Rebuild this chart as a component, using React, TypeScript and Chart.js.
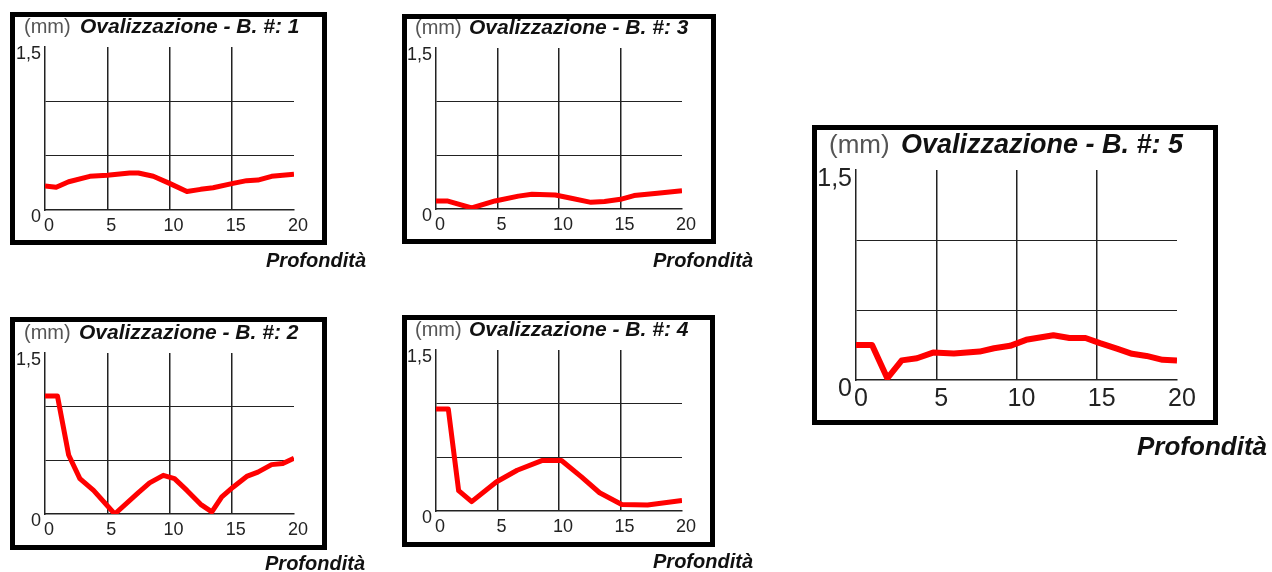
import React, { useEffect, useRef } from "react";
import { Chart, registerables } from "chart.js";

Chart.register(...registerables);

// ---------- data ----------
const xTickValues = [0, 5, 10, 15, 20];
const yTickLabelZero = "0";
const yTickLabelTop = "1,5";
const unitLabel = "(mm)";
const xAxisLabel = "Profondità";
const titles = [
  "Ovalizzazione - B. #: 1",
  "Ovalizzazione - B. #: 2",
  "Ovalizzazione - B. #: 3",
  "Ovalizzazione - B. #: 4",
  "Ovalizzazione - B. #: 5",
];

const depth1 = [0, 0.9, 1.9, 3.6, 5, 6.8, 7.5, 8.7, 10, 11.4, 12.5, 13.5, 15.1, 16.2, 17.1, 18.2, 20];
const oval1 = [0.22, 0.21, 0.26, 0.31, 0.32, 0.34, 0.34, 0.31, 0.245, 0.17, 0.19, 0.205, 0.245, 0.27, 0.275, 0.31, 0.33];

const depth2 = [0, 1.0, 1.9, 2.8, 3.9, 5.6, 7.5, 8.4, 9.5, 10.4, 11.4, 12.5, 13.4, 14.2, 15.1, 16.2, 17.1, 18.2, 19.1, 20];
const oval2 = [1.1, 1.1, 0.55, 0.33, 0.22, 0.0, 0.2, 0.29, 0.36, 0.33, 0.22, 0.09, 0.02, 0.16, 0.25, 0.35, 0.39, 0.46, 0.47, 0.52];

const depth3 = [0, 0.9, 2.9, 4.8, 6.7, 7.8, 9.7, 11, 12.6, 13.7, 15, 16.1, 18, 20];
const oval3 = [0.075, 0.075, 0.01, 0.075, 0.12, 0.137, 0.13, 0.1, 0.062, 0.07, 0.09, 0.125, 0.146, 0.17];

const depth4 = [0, 1.0, 1.84, 2.9, 4.9, 6.6, 8.6, 10.2, 11.8, 13.3, 15.1, 17.2, 20];
const oval4 = [0.95, 0.95, 0.19, 0.087, 0.27, 0.38, 0.47, 0.47, 0.32, 0.17, 0.06, 0.056, 0.097];

const depth5 = [0, 1.0, 1.95, 2.85, 3.8, 4.8, 6.1, 7.7, 8.6, 9.6, 10.6, 12.3, 13.3, 14.3, 15.2, 16.3, 17.2, 18.1, 19.1, 20];
const oval5 = [0.25, 0.25, 0.012, 0.14, 0.155, 0.196, 0.19, 0.203, 0.227, 0.244, 0.287, 0.32, 0.3, 0.3, 0.263, 0.222, 0.187, 0.172, 0.144, 0.139];

// ---------- layout ----------
type Panel = {
  title: string;
  depth: number[];
  values: number[];
  box: number[];
  area: number[];
  mmX: number;
  boldX: number;
  titleBase: number;
  profRight: number;
  profBase: number;
  titleSize: number;
  tickSize: number;
  profSize: number;
  lineW: number;
  labelDY: number;
  labelDX: number;
  xPad: number;
};

const small = { titleSize: 21, tickSize: 18, profSize: 20, lineW: 5, labelDY: 7, labelDX: 4, xPad: 5 };

const panels: Panel[] = [
  { title: titles[0], depth: depth1, values: oval1, box: [10, 12, 327, 245], area: [45, 47, 294, 210], mmX: 24, boldX: 80, titleBase: 33, profRight: 366, profBase: 267, ...small },
  { title: titles[1], depth: depth2, values: oval2, box: [10, 317, 327, 550], area: [45, 353, 294, 514], mmX: 24, boldX: 79, titleBase: 339, profRight: 365, profBase: 570, ...small },
  { title: titles[2], depth: depth3, values: oval3, box: [402, 14, 716, 244], area: [436, 48, 682, 209], mmX: 415, boldX: 469, titleBase: 34, profRight: 753, profBase: 267, ...small },
  { title: titles[3], depth: depth4, values: oval4, box: [402, 315, 715, 547], area: [436, 350, 682, 511], mmX: 415, boldX: 469, titleBase: 336, profRight: 753, profBase: 568, ...small },
  { title: titles[4], depth: depth5, values: oval5, box: [812, 125, 1218, 425], area: [856, 170, 1177, 380], mmX: 829, boldX: 901, titleBase: 153, profRight: 1267, profBase: 455, titleSize: 27, tickSize: 25, profSize: 26, lineW: 6, labelDY: 9, labelDX: 5, xPad: 4 },
];

const FONT = '"Liberation Sans", Arial, Helvetica, sans-serif';
const GRID = "#222222";
const CLEAR = "rgba(0,0,0,0)";

function PanelChart({ p }: { p: Panel }) {
  const ref = useRef<HTMLCanvasElement>(null);
  const ox = p.box[0] - 3;
  const oy = p.box[1] - 3;
  const W = Math.max(p.box[2], p.profRight) - ox + 6;
  const H = p.profBase - oy + 10;

  useEffect(() => {
    const decor = {
      id: "decor",
      afterDraw(chart: any) {
        const ctx = chart.ctx as CanvasRenderingContext2D;
        ctx.save();
        // frame
        ctx.strokeStyle = "#000";
        ctx.lineWidth = 5;
        const bw = p.box[2] - p.box[0];
        const bh = p.box[3] - p.box[1];
        ctx.strokeRect(p.box[0] - ox + 2.5, p.box[1] - oy + 2.5, bw - 5, bh - 5);
        // title
        ctx.textBaseline = "alphabetic";
        ctx.textAlign = "left";
        ctx.fillStyle = "#555";
        ctx.font = `${p.titleSize - 1}px ${FONT}`;
        ctx.fillText(unitLabel, p.mmX - ox, p.titleBase - oy);
        ctx.fillStyle = "#111";
        ctx.font = `italic bold ${p.titleSize}px ${FONT}`;
        ctx.fillText(p.title, p.boldX - ox, p.titleBase - oy);
        // x axis label
        ctx.textAlign = "right";
        ctx.font = `italic bold ${p.profSize}px ${FONT}`;
        ctx.fillText(xAxisLabel, p.profRight - ox, p.profBase - oy);
        ctx.restore();
      },
    };

    const chart = new Chart(ref.current!, {
      type: "line",
      data: {
        datasets: [
          {
            data: p.depth.map((d, i) => ({ x: d, y: p.values[i] })),
            borderColor: "#ff0000",
            backgroundColor: "#ff0000",
            borderWidth: p.lineW,
            pointRadius: 0,
            tension: 0,
            borderJoinStyle: "round",
            fill: false,
          },
        ],
      },
      options: {
        responsive: false,
        animation: false,
        events: [],
        layout: {
          padding: { top: p.area[1] - oy, right: W - (p.area[2] - ox), left: 0, bottom: 0 },
        },
        plugins: { legend: { display: false }, tooltip: { enabled: false }, title: { display: false } },
        scales: {
          x: {
            type: "linear",
            min: 0,
            max: 20,
            afterFit: (s: any) => {
              s.height = H - (p.area[3] - oy);
            },
            ticks: {
              stepSize: 5,
              autoSkip: false,
              maxRotation: 0,
              padding: p.xPad,
              labelOffset: p.labelDX,
              color: "#222",
              font: { family: FONT, size: p.tickSize },
              callback: (v: any) => (xTickValues.includes(Number(v)) ? String(v) : ""),
            },
            grid: {
              drawTicks: false,
              lineWidth: 1.5,
              color: (c: any) => (c.tick && (c.tick.value === 0 || c.tick.value === 20) ? CLEAR : GRID),
            },
            border: { display: true, color: "#222", width: 1.5 },
          },
          y: {
            type: "linear",
            min: 0,
            max: 1.5,
            afterFit: (s: any) => {
              s.width = p.area[0] - ox;
            },
            ticks: {
              stepSize: 0.5,
              autoSkip: false,
              padding: 4,
              labelOffset: p.labelDY,
              color: "#222",
              font: { family: FONT, size: p.tickSize },
              callback: (v: any) => (Number(v) === 0 ? yTickLabelZero : Number(v) === 1.5 ? yTickLabelTop : ""),
            },
            grid: {
              drawTicks: false,
              lineWidth: 1,
              color: (c: any) => (c.tick && (c.tick.value === 0.5 || c.tick.value === 1) ? GRID : CLEAR),
            },
            border: { display: true, color: "#222", width: 1.5 },
          },
        },
      },
      plugins: [decor],
    } as any);
    return () => chart.destroy();
  }, []);

  return (
    <div style={{ position: "absolute", left: ox, top: oy, width: W, height: H }}>
      <canvas ref={ref} width={W} height={H} style={{ width: W, height: H, display: "block" }} />
    </div>
  );
}

export default function App() {
  return (
    <div
      style={{
        position: "fixed",
        left: 0,
        top: 0,
        width: 1272,
        height: 572,
        background: "#fff",
        overflow: "hidden",
      }}
    >
      {panels.map((p, i) => (
        <PanelChart key={i} p={p} />
      ))}
    </div>
  );
}
